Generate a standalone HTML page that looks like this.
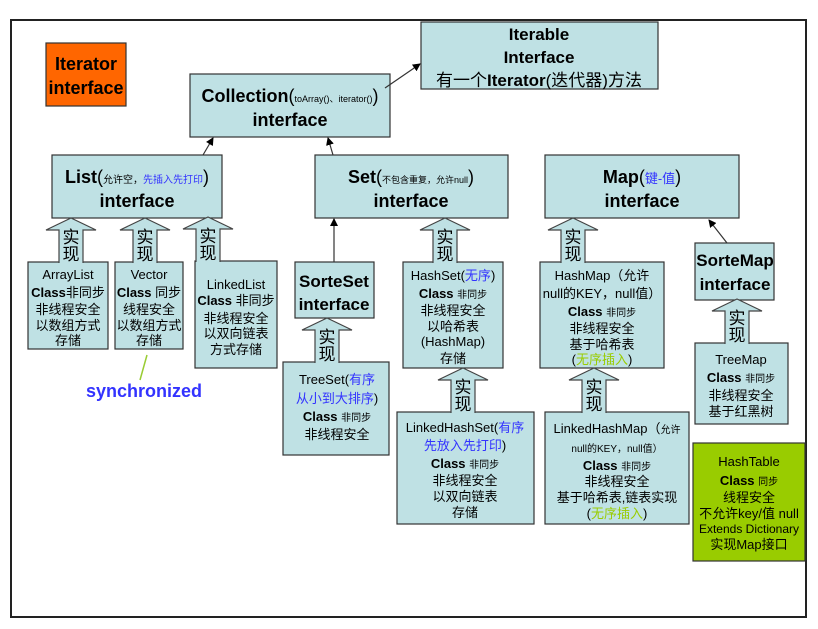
<!DOCTYPE html>
<html><head><meta charset="utf-8"><style>
body{margin:0;background:#fff}
svg text{font-family:"Liberation Sans","Noto Sans CJK SC",sans-serif;text-anchor:middle;fill:#000}
.b{font-weight:bold}
</style></head><body>
<svg width="818" height="624" viewBox="0 0 818 624" xmlns="http://www.w3.org/2000/svg">
<defs>
<marker id="ah" markerWidth="8" markerHeight="8" refX="7" refY="4" orient="auto" markerUnits="userSpaceOnUse"><path d="M0,0 L8,4 L0,8 z" fill="#000"/></marker>
<g id="arr"><path d="M-12,45 L-12,12 L-25,12 L0,0 L25,12 L12,12 L12,45" fill="#bfe1e4" stroke="#444" stroke-width="1.2"/><text x="0" y="25" font-size="17" font-family="Noto Sans CJK SC,sans-serif">实</text><text x="0" y="42" font-size="17" font-family="Noto Sans CJK SC,sans-serif">现</text></g>
</defs>
<rect x="11" y="20" width="795" height="597" fill="#fff" stroke="#222" stroke-width="2"/>
<g fill="#bfe1e4" stroke="#333" stroke-width="1.2">
<rect x="421" y="22" width="237" height="67"/>
<rect x="190" y="74" width="200" height="63"/>
<rect x="52" y="155" width="170" height="63"/>
<rect x="315" y="155" width="193" height="63"/>
<rect x="545" y="155" width="194" height="63"/>
<rect x="28" y="262" width="80" height="87"/>
<rect x="115" y="262" width="68" height="87"/>
<rect x="195" y="261" width="82" height="107"/>
<rect x="295" y="262" width="79" height="56"/>
<rect x="283" y="362" width="106" height="93"/>
<rect x="403" y="262" width="100" height="106"/>
<rect x="540" y="262" width="124" height="106"/>
<rect x="397" y="412" width="137" height="112"/>
<rect x="545" y="412" width="144" height="112"/>
<rect x="695" y="243" width="79" height="57"/>
<rect x="695" y="343" width="93" height="81"/>
</g>
<rect x="46" y="43" width="80" height="63" fill="#ff6600" stroke="#333" stroke-width="1.2"/>
<rect x="693" y="443" width="112" height="118" fill="#99cc00" stroke="#333" stroke-width="1.2"/>
<g stroke="#333" stroke-width="1.2" marker-end="url(#ah)">
<line x1="385" y1="88" x2="420" y2="64"/>
<line x1="203" y1="155" x2="213" y2="138"/>
<line x1="333" y1="155" x2="328" y2="138"/>
<line x1="334" y1="262" x2="334" y2="219"/>
<line x1="727" y1="243" x2="709" y2="220"/>
</g>
<line x1="147" y1="355" x2="140" y2="380" stroke="#99cc33" stroke-width="1.5"/>
<use href="#arr" x="71" y="218"/><use href="#arr" x="145" y="218"/><use href="#arr" x="208" y="217"/>
<use href="#arr" x="445" y="218"/><use href="#arr" x="573" y="218"/>
<use href="#arr" x="327" y="318"/><use href="#arr" x="463" y="368"/><use href="#arr" x="594" y="368"/><use href="#arr" x="737" y="299"/>

<text x="86" y="70" font-size="18" class="b">Iterator</text>
<text x="86" y="94" font-size="18" class="b">interface</text>
<text x="539" y="40" font-size="17" class="b">Iterable</text>
<text x="539" y="63" font-size="17" class="b">Interface</text>
<text x="539" y="86" font-size="17">有一个<tspan class="b">Iterator</tspan>(迭代器)方法</text>
<text x="290" y="102" font-size="18" class="b">Collection<tspan font-weight="normal">(</tspan><tspan font-size="9" font-weight="normal">toArray()、iterator()</tspan><tspan font-weight="normal">)</tspan></text>
<text x="290" y="126" font-size="18" class="b">interface</text>
<text x="137" y="183" font-size="18" class="b">List<tspan font-weight="normal">(</tspan><tspan font-size="10" font-weight="normal">允许空，<tspan fill="#3333ff">先插入先打印</tspan></tspan><tspan font-weight="normal">)</tspan></text>
<text x="137" y="207" font-size="18" class="b">interface</text>
<text x="411" y="183" font-size="18" class="b">Set<tspan font-weight="normal">(</tspan><tspan font-size="9" font-weight="normal">不包含重复，允许null</tspan><tspan font-weight="normal">)</tspan></text>
<text x="411" y="207" font-size="18" class="b">interface</text>
<text x="642" y="183" font-size="18" class="b">Map<tspan font-weight="normal">(</tspan><tspan font-size="13" font-weight="normal" fill="#3333ff">键-值</tspan><tspan font-weight="normal">)</tspan></text>
<text x="642" y="207" font-size="18" class="b">interface</text>

<g font-size="13">
<text x="68" y="279">ArrayList</text><text x="68" y="297" class="b">Class<tspan font-weight="normal">非同步</tspan></text><text x="68" y="314">非线程安全</text><text x="68" y="330">以数组方式</text><text x="68" y="345">存储</text>
<text x="149" y="279">Vector</text><text x="149" y="297" class="b">Class <tspan font-weight="normal">同步</tspan></text><text x="149" y="314">线程安全</text><text x="149" y="330">以数组方式</text><text x="149" y="345">存储</text>
<text x="236" y="289">LinkedList</text><text x="236" y="305" class="b">Class <tspan font-weight="normal">非同步</tspan></text><text x="236" y="323">非线程安全</text><text x="236" y="338">以双向链表</text><text x="236" y="354">方式存储</text>
<text x="337" y="384">TreeSet(<tspan fill="#3333ff">有序</tspan></text><text x="337" y="403"><tspan fill="#3333ff">从小到大排序</tspan>)</text><text x="337" y="421" class="b">Class <tspan font-weight="normal" font-size="10">非同步</tspan></text><text x="337" y="439">非线程安全</text>
<text x="453" y="280">HashSet(<tspan fill="#3333ff">无序</tspan>)</text><text x="453" y="298" class="b">Class <tspan font-weight="normal" font-size="10">非同步</tspan></text><text x="453" y="315">非线程安全</text><text x="453" y="331">以哈希表</text><text x="453" y="346">(HashMap)</text><text x="453" y="363">存储</text>
<text x="602" y="280">HashMap（允许</text><text x="602" y="298">null的KEY，null值）</text><text x="602" y="316" class="b">Class <tspan font-weight="normal" font-size="10">非同步</tspan></text><text x="602" y="333">非线程安全</text><text x="602" y="349">基于哈希表</text><text x="602" y="364">(<tspan fill="#99cc00">无序插入</tspan>)</text>
<text x="465" y="432">LinkedHashSet(<tspan fill="#3333ff">有序</tspan></text><text x="465" y="450"><tspan fill="#3333ff">先放入先打印</tspan>)</text><text x="465" y="468" class="b">Class <tspan font-weight="normal" font-size="10">非同步</tspan></text><text x="465" y="485">非线程安全</text><text x="465" y="501">以双向链表</text><text x="465" y="517">存储</text>
<text x="617" y="433">LinkedHashMap（<tspan font-size="10">允许</tspan></text><text x="617" y="452" font-size="10">null的KEY，null值）</text><text x="617" y="470" class="b">Class <tspan font-weight="normal" font-size="10">非同步</tspan></text><text x="617" y="486">非线程安全</text><text x="617" y="502">基于哈希表,链表实现</text><text x="617" y="518">(<tspan fill="#99cc00">无序插入</tspan>)</text>
<text x="741" y="364">TreeMap</text><text x="741" y="382" class="b">Class <tspan font-weight="normal" font-size="10">非同步</tspan></text><text x="741" y="400">非线程安全</text><text x="741" y="416">基于红黑树</text>
<text x="749" y="466">HashTable</text><text x="749" y="485" class="b">Class <tspan font-weight="normal" font-size="10">同步</tspan></text><text x="749" y="502">线程安全</text><text x="749" y="518">不允许key/值 null</text><text x="749" y="533" font-size="12">Extends Dictionary</text><text x="749" y="549">实现Map接口</text>
</g>
<text x="334" y="287" font-size="17" class="b">SorteSet</text><text x="334" y="310" font-size="17" class="b">interface</text>
<text x="735" y="266" font-size="17" class="b">SorteMap</text><text x="735" y="290" font-size="17" class="b">interface</text>
<text x="144" y="397" font-size="18" class="b" style="fill:#3333ff">synchronized</text>
</svg>
</body></html>
